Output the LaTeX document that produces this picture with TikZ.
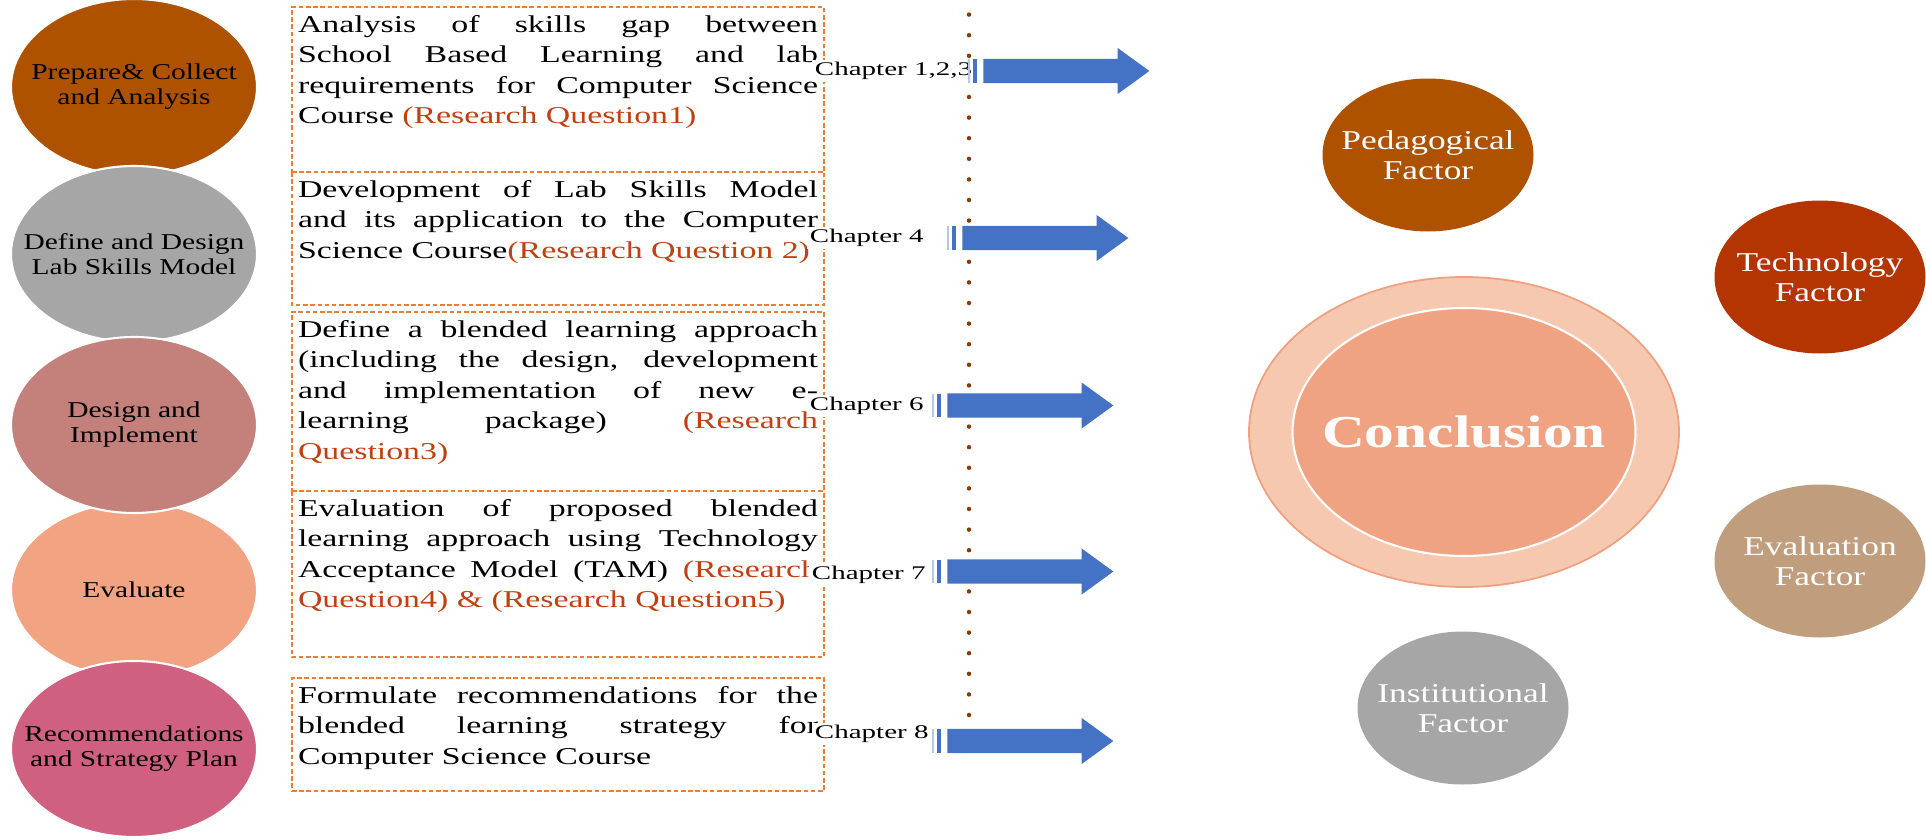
\documentclass[tikz,border=0pt]{standalone}
\usepackage{fontspec}
\setmainfont{Liberation Serif}[FakeStretch=1.3]
\newfontfamily\widefont{Liberation Serif}[FakeStretch=1.4]
\newfontfamily\chapfont{Liberation Serif}[FakeStretch=1.5]
\usetikzlibrary{shapes.geometric, shapes.arrows, positioning}
\usepackage{xcolor}
\definecolor{prepbrown}{RGB}{174,82,0}
\definecolor{phasegray}{RGB}{166,166,166}
\definecolor{designrose}{RGB}{196,128,122}
\definecolor{evalpeach}{RGB}{242,164,130}
\definecolor{recpink}{RGB}{208,96,128}
\definecolor{boxorange}{RGB}{237,125,49}
\definecolor{rqred}{RGB}{192,64,16}
\definecolor{arrowblue}{RGB}{68,114,196}
\definecolor{lightblue}{RGB}{180,199,231}
\definecolor{dotbrown}{RGB}{132,60,12}
\definecolor{conclout}{RGB}{247,200,176}
\definecolor{concledge}{RGB}{240,160,128}
\definecolor{conclin}{RGB}{240,163,130}
\definecolor{techred}{RGB}{180,52,2}
\definecolor{evaltan}{RGB}{192,158,125}

\begin{document}
\begin{tikzpicture}
    \tikzstyle{phase}=[ellipse, draw=white, line width=1.2pt, minimum width=4.92cm, minimum height=3.52cm, inner sep=0pt]
    \tikzstyle{phase text}=[align=center, inner sep=0pt, font=\fontsize{12.9}{14.2}\selectfont]
    \tikzstyle{box line}=[draw=boxorange, dash pattern=on 2.6pt off 1.5pt, line width=1.1pt]
    \tikzstyle{task box}=[box line, outer sep=0pt, inner xsep=0.12cm, inner ysep=0.16cm, anchor=north west, font=\widefont\fontsize{13.75}{17.4}\selectfont]
    \tikzstyle{chapter}=[fill=white, inner sep=1.5pt, anchor=west, font=\chapfont\fontsize{11}{13}\selectfont]
    \tikzstyle{block arrow}=[single arrow, fill=arrowblue, inner xsep=0pt, inner ysep=0.235cm, minimum height=3.32cm, minimum width=0.92cm, single arrow head extend=0.22cm, single arrow tip angle=72, anchor=tail]
    \tikzstyle{dark bar}=[fill=arrowblue, inner sep=0pt, minimum width=0.07cm, minimum height=0.47cm]
    \tikzstyle{light bar}=[dark bar, fill=lightblue, minimum width=0.05cm]
    \tikzstyle{factor}=[ellipse, minimum width=4.22cm, minimum height=3.06cm, inner sep=0pt]
    \tikzstyle{factor text}=[align=center, inner sep=0pt, text=white, font=\fontsize{15.5}{17}\selectfont]

    \useasboundingbox (0,0) rectangle (38.52,-16.8);

	% phases on the left
	\foreach \n/\y/\c/\lbl in {1/-1.74/prepbrown/{Prepare\& Collect\\and Analysis}, 2/-5.08/phasegray/{Define and Design\\Lab Skills Model}, 4/-11.8/evalpeach/{Evaluate}, 3/-8.5/designrose/{Design and\\Implement}, 5/-14.98/recpink/{Recommendations\\and Strategy Plan}}{
		\node[phase, fill=\c, label={[phase text]center:\lbl}] (P-\n) at (2.68,\y) {};
		}

	\coordinate (dot top) at (19.38,0.12);
	\coordinate (dot bottom) at (19.38,-14.3);
	\draw[dotbrown, line width=0.09cm, line cap=round, dash pattern=on 0pt off 0.412cm] (dot bottom) -- (dot top);

	\node[task box] (T-1) at (5.84,-0.14) {\parbox[t][2.98cm][t]{10.4cm}{Analysis of skills gap between\linebreak School Based Learning and lab\linebreak requirements for Computer Science\linebreak Course {\color{rqred}(Research Question1)}}};
	\node[task box, draw=none] (T-2) at (5.84,-3.44) {\parbox[t][2.34cm][t]{10.4cm}{Development of Lab Skills Model\linebreak and its application to the Computer\linebreak Science Course{\color{rqred}(Research Question 2)}}};
	\draw[box line] (T-2.north west) -- (T-2.south west) -- (T-2.south east) -- (T-2.north east);
	\node[task box] (T-3) at (5.84,-6.24) {\parbox[t][3.26cm][t]{10.4cm}{Define a blended learning approach\linebreak (including the design, development\linebreak and implementation of new e-\linebreak learning package) {\color{rqred}(Research\linebreak Question3)}}};
	\node[task box, draw=none] (T-4) at (5.84,-9.82) {\parbox[t][3.0cm][t]{10.4cm}{Evaluation of proposed blended\linebreak learning approach using Technology\linebreak Acceptance Model (TAM) {\color{rqred}(Research\linebreak Question4) \& (Research Question5)}}};
	\draw[box line] (T-4.north west) -- (T-4.south west) -- (T-4.south east) -- (T-4.north east);
	\node[task box] (T-5) at (5.84,-13.56) {\parbox[t][1.94cm][t]{10.4cm}{Formulate recommendations for the\linebreak blended learning strategy for\linebreak Computer Science Course}};

	\node[chapter] (C-1) at (16.24,-1.42) {Chapter 1,2,3};
	\node[chapter] (C-2) at (16.14,-4.76) {Chapter 4};
	\node[chapter] (C-3) at (16.14,-8.12) {Chapter 6};
	\node[chapter] (C-4) at (16.18,-11.5) {Chapter 7};
	\node[chapter] (C-5) at (16.24,-14.68) {Chapter 8};

	\foreach \n/\x/\y in {1/19.66/-1.42, 2/19.24/-4.76, 3/18.94/-8.11, 4/18.94/-11.43, 5/18.94/-14.82}{
		\node[block arrow] (A-\n) at (\x,\y) {};
		\node[dark bar, left=0.12cm of A-\n.tail] (D-\n) {};
		\node[light bar, left=0.04cm of D-\n] (L-\n) {};
		}

	% conclusion and factors
	\node[ellipse, fill=conclout, draw=concledge, line width=1pt, minimum width=8.6cm, minimum height=6.2cm, inner sep=0pt] (outer) at (29.28,-8.64) {};
	\node[ellipse, fill=conclin, draw=white, line width=1.2pt, minimum width=6.86cm, minimum height=4.96cm, inner sep=0pt, label={[factor text, font=\fontsize{26}{30}\selectfont\bfseries]center:Conclusion}] (concl) at (outer) {};

	\node[factor, fill=prepbrown, label={[factor text]center:Pedagogical\\Factor}] (F-ped) at (28.56,-3.1) {};
	\node[factor, fill=techred, label={[factor text]center:Technology\\Factor}] (F-tech) at (36.4,-5.54) {};
	\node[factor, fill=evaltan, label={[factor text]center:Evaluation\\Factor}] (F-eval) at (36.4,-11.22) {};
	\node[factor, fill=phasegray, label={[factor text]center:Institutional\\Factor}] (F-inst) at (29.26,-14.16) {};
\end{tikzpicture}
\end{document}
